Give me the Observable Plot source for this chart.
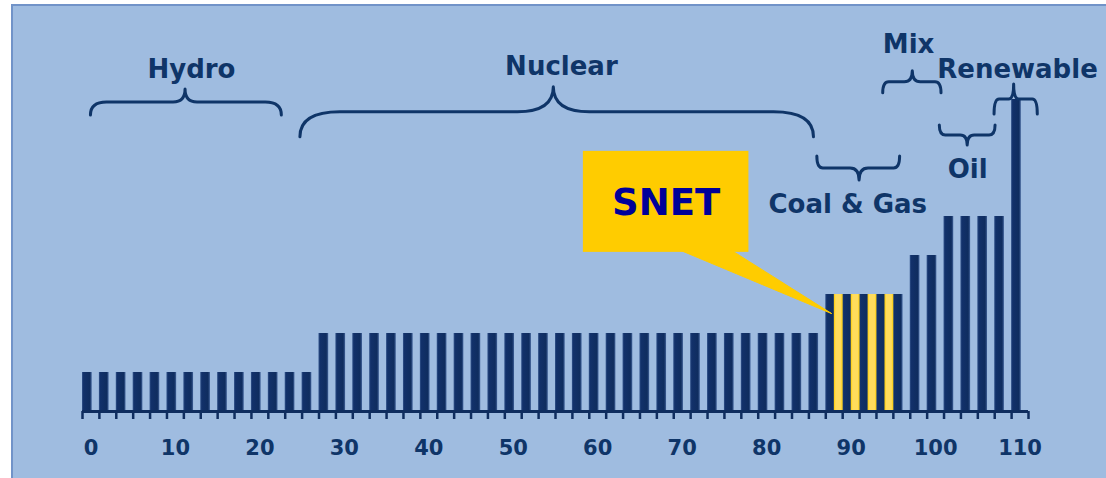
<!DOCTYPE html>
<html>
<head>
<meta charset="utf-8">
<script src="https://cdn.jsdelivr.net/npm/d3@7"></script>
<script src="https://cdn.jsdelivr.net/npm/@observablehq/plot@0.6"></script>
<style>
  html, body { margin: 0; padding: 0; background: #ffffff; overflow: hidden; }
  #wrap { position: relative; width: 1106px; height: 478px; overflow: hidden; }
  #panel {
    position: absolute; left: 11px; top: 4px; width: 1120px; height: 500px;
    background: #9fbce0;
    border-left: 2px solid #7193c8; border-top: 2px solid #7193c8;
  }
  #chart { position: absolute; left: 0; top: 0; }
</style>
</head>
<body>
<div id="wrap"><div id="panel"></div><div id="chart"></div></div>
<script>
// Merit order: one bar per 2-unit capacity block, height = bid price level
const barPosition = [
  0, 2, 4, 6, 8, 10, 12, 14, 16, 18, 20, 22, 24, 26,
  28, 30, 32, 34, 36, 38, 40, 42, 44, 46, 48, 50, 52, 54, 56, 58,
  60, 62, 64, 66, 68, 70, 72, 74, 76, 78, 80, 82, 84, 86,
  88, 90, 92, 94, 96,
  98, 100,
  102, 104, 106, 108,
  110
];
const barPrice = [
  1, 1, 1, 1, 1, 1, 1, 1, 1, 1, 1, 1, 1, 1,
  2, 2, 2, 2, 2, 2, 2, 2, 2, 2, 2, 2, 2, 2, 2, 2,
  2, 2, 2, 2, 2, 2, 2, 2, 2, 2, 2, 2, 2, 2,
  3, 3, 3, 3, 3,
  4, 4,
  5, 5, 5, 5,
  8
];

// SNET units inside the coal & gas block
const snetPosition = [88, 90, 92, 94];
const snetPrice = [3, 3, 3, 3];

// Axis: labels every 10, tick marks on block boundaries
const tickLabels = [0, 10, 20, 30, 40, 50, 60, 70, 80, 90, 100, 110];
const tickBoundaries = [
  -1, 1, 3, 5, 7, 9, 11, 13, 15, 17, 19, 21, 23, 25, 27, 29, 31, 33, 35,
  37, 39, 41, 43, 45, 47, 49, 51, 53, 55, 57, 59, 61, 63, 65, 67, 69, 71,
  73, 75, 77, 79, 81, 83, 85, 87, 89, 91, 93, 95, 97, 99, 101, 103, 105,
  107, 109, 111
];

// Technology group labels and their braces
const groupName   = ["Hydro", "Nuclear", "Coal & Gas", "Mix", "Oil", "Renewable"];
const groupLabelX = [11.9, 55.7, 89.6, 96.8, 103.8, 109.7];
const groupLabelY = [8.54, 8.62, 5.1, 9.18, 6.0, 8.56];
const braceFrom   = [0, 24.8, 86, 93.8, 100.5, 106.98];
const braceTo     = [22.6, 85.6, 95.8, 100.7, 107.1, 112.1];
const braceMid    = [11.2, 54.8, 91, 97.3, 103.8, 109.3];
const braceLevel  = [7.92, 7.67, 6.23, 8.44, 7.08, 8.0];
const braceOpens  = ["down", "down", "up", "down", "up", "down"];
const braceDepth  = [13, 25, 12, 11, 10, 15];
const braceEndCurl = [16, 40, 6, 6, 6, 5];
const braceMidCurl = [12, 36, 9, 8, 7, 5];

// SNET callout box and pointer
const calloutText = "SNET";
const calloutBox = {x1: 58.3, x2: 77.9, y1: 4.08, y2: 6.67};
const calloutTextAt = {x: 68.1, y: 5.03};
const pointerX = [69.6, 87.7, 75.7];
const pointerY = [4.15, 2.51, 4.15];

const navy = "#0f3568";
const barNavy = "#0f2d5f";

const bars = barPosition.map((p, i) => ({from: p - 1, to: p + 1, price: barPrice[i]}));
const snet = snetPosition.map((p, i) => ({from: p - 1, to: p + 1, price: snetPrice[i]}));
const groups = groupName.map((name, i) => ({
  name, lx: groupLabelX[i], ly: groupLabelY[i],
  from: braceFrom[i], to: braceTo[i], mid: braceMid[i], level: braceLevel[i],
  opens: braceOpens[i], depth: braceDepth[i], endCurl: braceEndCurl[i], midCurl: braceMidCurl[i]
}));
const pointer = pointerX.map((x, i) => ({x, y: pointerY[i]}));

// Gradient definitions for the shaded bars
function shadingDefs() {
  const svg = d3.create("svg:g");
  const defs = svg.append("defs");
  const g1 = defs.append("linearGradient").attr("id", "barShade").attr("x1", 0).attr("x2", 1).attr("y1", 0).attr("y2", 0);
  [[0, "#34558c"], [0.16, "#12316a"], [0.8, barNavy], [1, "#3f6097"]].forEach(([o, c]) =>
    g1.append("stop").attr("offset", o).attr("stop-color", c));
  const g2 = defs.append("linearGradient").attr("id", "snetShade").attr("x1", 0).attr("x2", 1).attr("y1", 0).attr("y2", 0);
  [[0, "#ffcc00"], [0.22, "#ffdc5c"], [0.78, "#ffdc5c"], [1, "#ffcc00"]].forEach(([o, c]) =>
    g2.append("stop").attr("offset", o).attr("stop-color", c));
  return svg.node();
}

// Curly braces grouping the technologies
function braces(index, scales) {
  const g = d3.create("svg:g")
    .attr("fill", "none").attr("stroke", navy).attr("stroke-width", 3)
    .attr("stroke-linecap", "round").attr("stroke-linejoin", "round");
  for (const b of groups) {
    const x0 = scales.x(b.from), x1 = scales.x(b.to), xm = scales.x(b.mid);
    const yL = scales.y(b.level);
    const s = b.opens === "down" ? 1 : -1;
    const d = b.depth, we = b.endCurl, wm = b.midCurl;
    const path = d3.path();
    path.moveTo(x0, yL + s * d);
    path.quadraticCurveTo(x0, yL, x0 + we, yL);
    path.lineTo(xm - wm, yL);
    path.quadraticCurveTo(xm, yL, xm, yL - s * d);
    path.quadraticCurveTo(xm, yL, xm + wm, yL);
    path.lineTo(x1 - we, yL);
    path.quadraticCurveTo(x1, yL, x1, yL + s * d);
    g.append("path").attr("d", path.toString());
  }
  return g.node();
}

const chart = Plot.plot({
  width: 1106,
  height: 478,
  marginLeft: 82,
  marginRight: 78,
  marginTop: 21,
  marginBottom: 67,
  style: {background: "transparent", fontFamily: "DejaVu Sans", overflow: "visible"},
  x: {domain: [-1, 111]},
  y: {domain: [0, 10], axis: null},
  marks: [
    shadingDefs,
    Plot.rectY(bars, {x1: "from", x2: "to", y: "price", insetLeft: 0, insetRight: 7.2, fill: "url(#barShade)"}),
    Plot.rectY(snet, {x1: "from", x2: "to", y: "price", insetLeft: 8.6, insetRight: -0.4, fill: "url(#snetShade)"}),
    Plot.ruleY([0], {stroke: barNavy, strokeWidth: 3}),
    Plot.axisX(tickBoundaries, {tickSize: 8, strokeWidth: 2.5, stroke: barNavy, tickFormat: () => "", label: null}),
    Plot.axisX(tickLabels, {tickSize: 0, tickPadding: 29, fontSize: 21, fontWeight: "bold", color: navy, tickFormat: d => String(d), label: null}),
    braces,
    Plot.text(groups, {x: "lx", y: "ly", text: "name", lineAnchor: "bottom", fontSize: 26, fontWeight: "bold", fill: navy}),
    Plot.rect([calloutBox], {x1: "x1", x2: "x2", y1: "y1", y2: "y2", fill: "#ffcc00"}),
    Plot.line(pointer, {x: "x", y: "y", fill: "#ffcc00", stroke: "#ffcc00", strokeWidth: 1}),
    Plot.text([calloutTextAt], {x: "x", y: "y", text: () => calloutText, lineAnchor: "bottom", fontSize: 37, fontWeight: "bold", fill: "#000099"})
  ]
});

document.getElementById("chart").appendChild(chart);
</script>
</body>
</html>
